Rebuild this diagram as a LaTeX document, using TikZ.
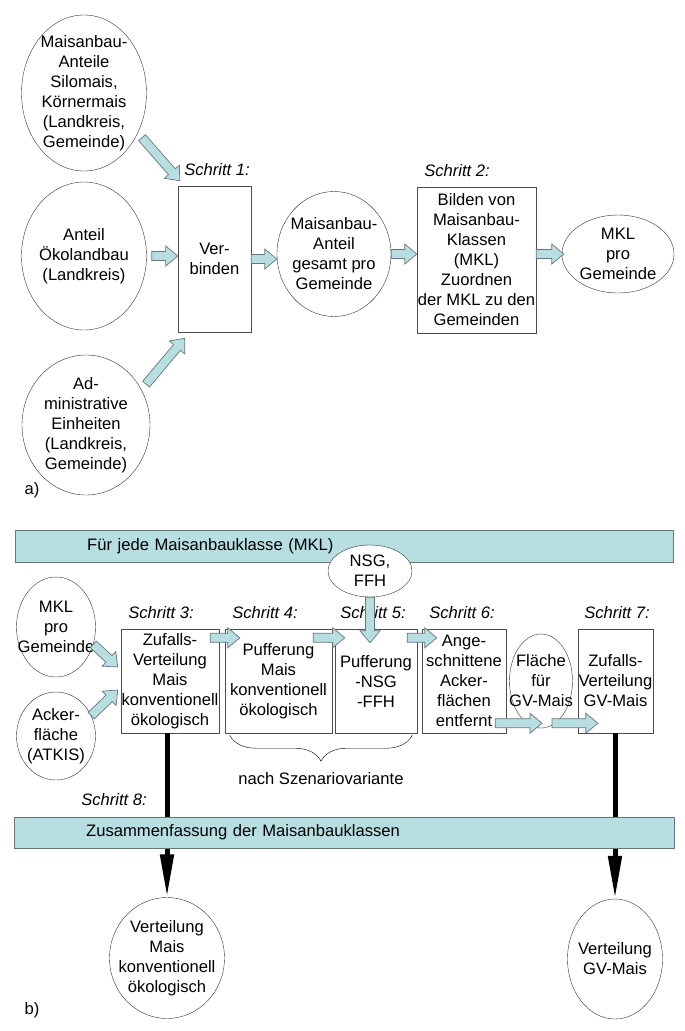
\documentclass[tikz,border=0pt]{standalone}
\usepackage{fontspec}
\setmainfont{Liberation Sans}
\usetikzlibrary{shapes.geometric,arrows.meta,decorations.pathreplacing,calc}
\definecolor{paleblue}{RGB}{183,222,225}
\definecolor{rimgrey}{RGB}{105,118,122}
\tikzset{
  ell/.style={ellipse, draw=black!80, fill=white, inner sep=-40pt, align=center},
  box/.style={rectangle, draw=black!70, fill=white, inner sep=0pt, align=center},
  band/.style={rectangle, draw=rimgrey, fill=paleblue, inner ysep=0pt, align=left},
  schritt/.style={font=\itshape},
  blockarr/.style={draw=rimgrey, fill=paleblue, line width=0.7pt, line join=miter},
  fatarrow/.style={line width=5pt, -{Triangle[length=43pt,width=13pt]}}
}
% block arrow from #1 to #2
\newcommand\blockarrow[2]{%
  \draw[blockarr] let \p1=(#1), \p2=(#2),
    \n1={atan2(\y2-\y1,\x2-\x1)}, \n2={veclen(\x2-\x1,\y2-\y1)} in
    [shift={(\p1)}, rotate=\n1]
    (0pt,-4.5pt) -- (\n2-12pt,-4.5pt) -- (\n2-12pt,-10pt) -- (\n2,0pt)
    -- (\n2-12pt,10pt) -- (\n2-12pt,4.5pt) -- (0pt,4.5pt) -- cycle;}
\begin{document}
\fontsize{16.6}{20}\selectfont
\begin{tikzpicture}[x=1pt, y=-1pt]
  \useasboundingbox (0,0) rectangle (685,1031);
  %Part a
  \node[ell, minimum width=125, minimum height=156] (maisant) at (84,93)
    {Maisanbau-\\Anteile\\Silomais,\\Körnermais\\(Landkreis,\\Gemeinde)};
  \node[ell, minimum width=125, minimum height=148] (oeko) at (84,256)
    {Anteil\\Ökolandbau\\(Landkreis)};
  \node[ell, minimum width=128, minimum height=140] (admin) at (86,425)
    {Ad-\\ministrative\\Einheiten\\(Landkreis,\\Gemeinde)};
  \node[box, minimum width=73, minimum height=146] (verb) at (214.5,259)
    {Ver-\\binden};
  \node[ell, minimum width=114, minimum height=125] (gesamt) at (334,254)
    {Maisanbau-\\Anteil\\gesamt pro\\Gemeinde};
  \node[box, minimum width=119, minimum height=146] (klassen) at (476.5,260)
    {Bilden von\\Maisanbau-\\Klassen\\(MKL)\\Zuordnen\\der MKL zu den\\Gemeinden};
  \node[ell, minimum width=112, minimum height=78] (mkla) at (618,254)
    {MKL\\pro\\Gemeinde};
  \node[schritt] (s1) at (217,170) {Schritt 1:};
  \node[schritt] (s2) at (457,171) {Schritt 2:};
  \node[anchor=west] (la) at (19,490) {a)};
  \blockarrow{$(maisant.-40)+(6,1)$}{$(verb.north west)+(2,-5)$}
  \blockarrow{$(oeko.east)+(5,0)$}{verb.west |- oeko.east}
  \blockarrow{$(admin.35)+(6,-3)$}{$(verb.south west)+(7,6)$}
  \blockarrow{verb.east}{verb.east -| gesamt.west}
  \blockarrow{gesamt.east}{gesamt.east -| klassen.west}
  \blockarrow{klassen.east |- mkla.west}{$(mkla.west)+(2,0)$}
  %Part b
  \node[band, anchor=west, text width=514, inner xsep=72, minimum height=32] (fuer)
    at (15,546) {Für jede Maisanbauklasse (MKL)};
  \node[ell, minimum width=84, minimum height=52] (nsg) at (370,571) {NSG,\\FFH};
  \node[ell, minimum width=79, minimum height=100] (mklb) at (56,627)
    {MKL\\pro\\Gemeinde};
  \node[ell, minimum width=79, minimum height=88] (acker) at (56,736)
    {Acker-\\fläche\\(ATKIS)};
  \node[box, minimum width=98, minimum height=104] (zufall) at (170,681)
    {Zufalls-\\Verteilung\\Mais\\konventionell\\ökologisch};
  \node[box, minimum width=107, minimum height=104] (puffer) at (278.5,681)
    {Pufferung\\Mais\\konventionell\\ökologisch};
  \node[box, minimum width=82, minimum height=104] (pufnsg) at (376,681)
    {Pufferung\\-NSG\\-FFH};
  \node[box, minimum width=84, minimum height=104] (schnitt) at (464,681)
    {Ange-\\schnittene\\Acker-\\flächen\\entfernt};
  \node[ell, minimum width=63, minimum height=94] (flaeche) at (541,681)
    {Fläche\\für\\GV-Mais};
  \node[box, minimum width=75, minimum height=104] (zufgv) at (615.5,681)
    {Zufalls-\\Verteilung\\GV-Mais};
  \node[schritt] (s3) at (161,613) {Schritt 3:};
  \node[schritt] (s4) at (265,613) {Schritt 4:};
  \node[schritt] (s5) at (373,613) {Schritt 5:};
  \node[schritt] (s6) at (462,613) {Schritt 6:};
  \node[schritt] (s7) at (617,613) {Schritt 7:};
  \node[schritt] (s8) at (114,800) {Schritt 8:};
  \blockarrow{mklb.-25}{$(zufall.west)+(-3,-14)$}
  \blockarrow{acker.30}{$(zufall.west)+(-3,9)$}
  \blockarrow{$(zufall.north east)+(-9,9)$}{$(puffer.north west)+(15,9)$}
  \blockarrow{$(puffer.north east)+(-19,9)$}{$(pufnsg.north west)+(10,9)$}
  \blockarrow{$(pufnsg.north east)+(-10,9)$}{$(schnitt.north west)+(15,9)$}
  \blockarrow{nsg.south}{$(nsg.south |- pufnsg.north)+(0,14)$}
  \blockarrow{$(schnitt.south east)+(-11,-10)$}{$(flaeche.south |- schnitt.south)+(1,-10)$}
  \blockarrow{$(flaeche.south |- schnitt.south)+(11,-10)$}{$(zufgv.south west)+(20,-10)$}
  %Szenario brace
  \draw[decorate, decoration={brace, mirror, amplitude=26pt}]
    ($(puffer.south west)+(5,2)$) -- ($(pufnsg.south east)+(-5,2)$);
  \node (szen) at (321,779) {nach Szenariovariante};
  %Results
  \node[ell, minimum width=115, minimum height=121] (vm) at (167,958)
    {Verteilung\\Mais\\konventionell\\ökologisch};
  \node[ell, minimum width=95, minimum height=120] (vgv) at (615,959)
    {Verteilung\\GV-Mais};
  \draw[fatarrow] (vm.north |- zufall.south) -- (vm.north);
  \draw[fatarrow] (vgv.north |- zufgv.south) -- (vgv.north);
  \node[band, anchor=west, text width=516, inner xsep=72, minimum height=31] (zus)
    at (14,832.5) {Zusammenfassung der Maisanbauklassen};
  \node[anchor=west] (lb) at (19,1010) {b)};
\end{tikzpicture}
\end{document}
